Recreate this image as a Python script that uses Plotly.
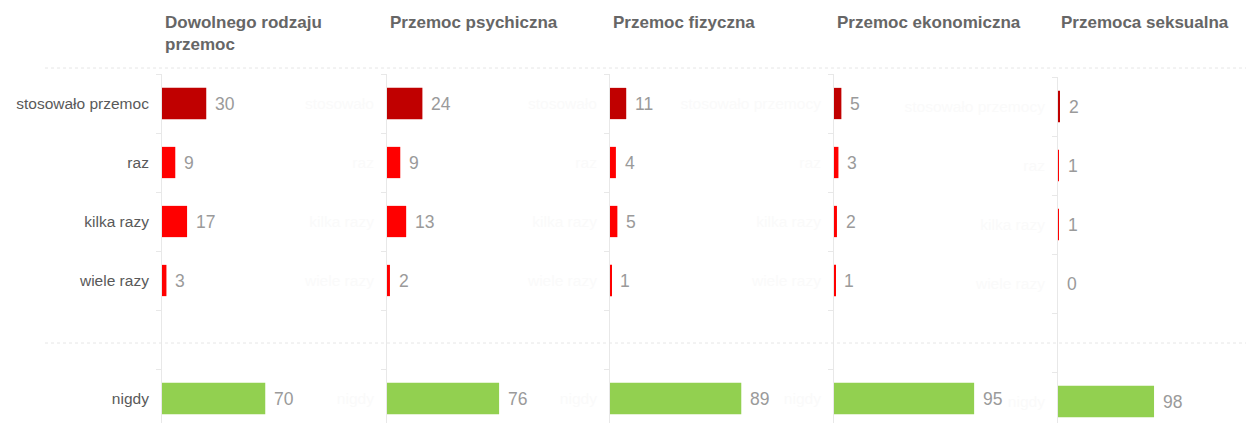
import plotly.graph_objects as go

# ---- data ----
panel_titles = ["Dowolnego rodzaju<br>przemoc", "Przemoc psychiczna", "Przemoc fizyczna",
                "Przemoc ekonomiczna", "Przemoca seksualna"]
categories = ["stosowało przemoc", "raz", "kilka razy", "wiele razy", "", "nigdy"]
ghost_first = ["", "stosowało", "stosowało", "stosowało przemocy", "stosowało przemocy"]

v_dowolnego = [30, 9, 17, 3, None, 70]
v_psychiczna = [24, 9, 13, 2, None, 76]
v_fizyczna = [11, 4, 5, 1, None, 89]
v_ekonomiczna = [5, 3, 2, 1, None, 95]
v_seksualna = [2, 1, 1, 0, None, 98]
series = [v_dowolnego, v_psychiczna, v_fizyczna, v_ekonomiczna, v_seksualna]

bar_colors = ["#c00000", "#ff0000", "#ff0000", "#ff0000", "#ffffff", "#92d050"]

# ---- layout constants (pixels in the 1254x423 window; page has an 8px body margin) ----
OFF = 8
W, H = 1254 - OFF, 423 - OFF
axis_px = [162, 387, 610, 834, 1058]
panel_w = [215, 215, 215, 215, 196]
x_max = [215 / 1.475] * 4 + [200]
top_px = [74, 74, 74, 74, 77]
band = 59.0
FONT = "Liberation Sans, Arial"

def px_x(p):
    return (p - OFF) / W

def px_y(p):
    return 1 - (p - OFF) / H

fig = go.Figure()
layout_axes = {}
annotations = []
idx = list(range(len(categories)))

for k, vals in enumerate(series):
    n = k + 1
    xa = "x" if n == 1 else f"x{n}"
    ya = "y" if n == 1 else f"y{n}"
    ys = [i for i, v in zip(idx, vals) if v is not None]
    xs = [v for v in vals if v is not None]
    cols = [bar_colors[i] for i in ys]
    fig.add_trace(go.Bar(x=xs, y=ys, orientation="h", width=0.53,
                         marker=dict(color=cols, line=dict(width=0)),
                         xaxis=xa, yaxis=ya, showlegend=False, hoverinfo="skip"))
    for i, v in zip(ys, xs):
        annotations.append(dict(x=v, y=i, xref=xa, yref=ya, text=str(v), showarrow=False,
                                xanchor="left", yanchor="middle", xshift=7,
                                font=dict(family=FONT, size=17.5, color="#9a9a9a")))
    x0 = px_x(axis_px[k])
    x1 = min(px_x(axis_px[k] + panel_w[k]), 1.0)
    ytop = px_y(top_px[k])
    bottom_val = -0.5 + (423 - top_px[k]) / band
    if k == 0:
        ticktext = categories
        tcolor = "#595959"
    else:
        ticktext = [ghost_first[k]] + categories[1:]
        tcolor = "#fafafa"
    layout_axes["xaxis" if n == 1 else f"xaxis{n}"] = dict(
        domain=[x0, x1], range=[0, x_max[k]], anchor=ya, visible=False, fixedrange=True)
    layout_axes["yaxis" if n == 1 else f"yaxis{n}"] = dict(
        domain=[0, ytop], range=[bottom_val, -0.5], anchor=xa,
        tickmode="array", tickvals=idx, ticktext=ticktext, ticks="",
        tickfont=dict(family=FONT, size=15.5, color=tcolor),
        showgrid=False, zeroline=False, showline=True, linecolor="#e8e8e8", linewidth=1,
        ticklabelstandoff=9,
        minor=dict(tick0=-0.5, dtick=1, ticks="outside", ticklen=5, tickcolor="#e8e8e8",
                   showgrid=False),
        fixedrange=True)
    # panel title
    annotations.append(dict(x=px_x(axis_px[k] + 1), y=px_y(11), xref="paper", yref="paper",
                            text=f"<b>{panel_titles[k]}</b>", showarrow=False,
                            xanchor="left", yanchor="top", align="left",
                            font=dict(family=FONT, size=17, color="#666666")))

shapes = []
for ypx in [68, 343]:
    shapes.append(dict(type="line", xref="paper", yref="paper", x0=px_x(45), x1=1.0,
                       y0=px_y(ypx), y1=px_y(ypx),
                       line=dict(color="#e6e6e6", width=1, dash="3px,3px")))

fig.update_layout(width=W, height=H, margin=dict(l=0, r=0, t=0, b=0),
                  paper_bgcolor="white", plot_bgcolor="white",
                  annotations=annotations, shapes=shapes, **layout_axes)

fig.write_html("out.html")
